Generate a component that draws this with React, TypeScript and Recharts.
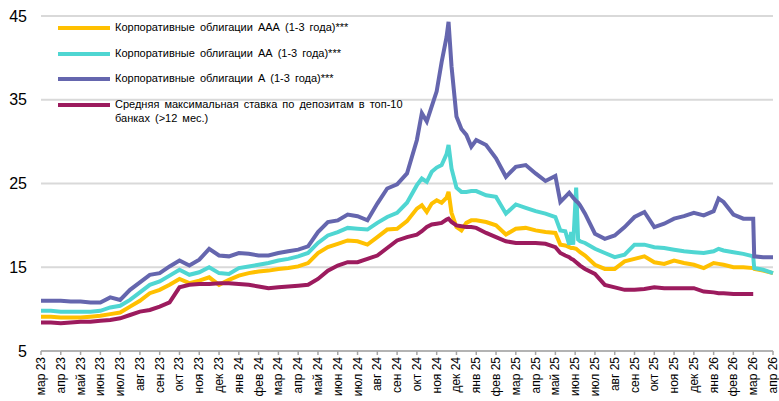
import { LineChart, Line, XAxis, YAxis, CartesianGrid } from "recharts"

// months since Mar 2023 (irregular steps, denser around the sharp moves)
const t = [
  0, 0.5, 1, 1.5, 2, 2.5, 3, 3.5, 4, 4.5, 5, 5.5, 6, 6.5, 7, 7.5, 8, 8.5, 9, 9.5,
  10, 10.5, 11, 11.5, 12, 12.5, 13, 13.5, 14, 14.5, 15, 15.5, 16, 16.5, 17, 17.5, 18, 18.5, 19,
  19.25, 19.5, 19.75, 20, 20.25, 20.5, 20.6, 20.75, 21, 21.25, 21.5, 21.75, 22,
  22.5, 23, 23.5, 24, 24.5, 25, 25.5, 26,
  26.25, 26.5, 26.7, 26.8, 26.9, 27.05, 27.15, 27.25, 27.5,
  28, 28.5, 29, 29.5, 30, 30.5, 31, 31.5, 32, 32.5, 33, 33.5, 34,
  34.25, 34.5, 35, 35.5, 36, 36.05, 36.5, 37,
]

const aaa = [
  9.1, 9.1, 9.0, 9.0, 9.0, 9.1, 9.2, 9.4, 9.6, 10.3, 11.0, 11.9, 12.3, 12.9, 13.6, 13.1, 13.4, 13.8, 12.9, 13.5,
  14.0, 14.3, 14.5, 14.6, 14.8, 14.9, 15.1, 15.5, 16.7, 17.4, 17.8, 18.2, 18.1, 17.7, 18.6, 19.5, 19.6, 20.5, 22.0,
  22.4, 21.6, 22.6, 23.0, 22.7, 23.3, 24.0, 21.5, 19.8, 19.4, 20.3, 20.6, 20.6,
  20.4, 20.0, 18.9, 19.6, 19.7, 19.4, 19.2, 19.1,
  17.7, 17.6, 17.4, 17.3, 17.3, 17.2, 17.0, 16.8, 16.4,
  15.3, 14.8, 14.8, 15.7, 16.0, 16.3, 15.6, 15.4, 15.8, 15.5, 15.3, 14.9, 15.5,
  15.4, 15.3, 15.0, 15.0, 14.9, 14.8, 14.6, 14.3,
]

const aa = [
  9.8, 9.8, 9.7, 9.7, 9.7, 9.7, 9.8, 10.2, 10.4, 11.1, 12.0, 12.9, 13.3, 14.0, 14.7, 14.1, 14.4, 15.0, 14.3, 14.2,
  14.9, 15.1, 15.3, 15.5, 15.8, 16.0, 16.3, 16.7, 17.9, 18.8, 19.2, 19.7, 19.6, 19.5, 20.3, 21.0, 21.5, 22.7, 24.8,
  25.6, 25.2, 26.4, 26.9, 27.2, 28.5, 29.6, 26.8, 24.5, 24.0, 24.0, 24.1, 24.1,
  23.6, 23.4, 21.4, 22.5, 22.1, 21.7, 21.4, 21.0,
  19.4, 19.3, 17.7, 19.2, 17.7, 24.5, 18.3, 18.1, 17.9,
  17.2, 16.7, 16.2, 16.5, 17.7, 17.7, 17.4, 17.3, 17.1, 16.9, 16.8, 16.7, 16.9,
  17.2, 17.0, 16.8, 16.6, 16.3, 14.9, 14.7, 14.3,
]

const a = [
  11.0, 11.0, 11.0, 10.9, 10.9, 10.8, 10.8, 11.4, 11.1, 12.3, 13.2, 14.1, 14.3, 15.1, 15.8, 15.2, 15.9, 17.2, 16.4, 16.3,
  16.7, 16.6, 16.4, 16.4, 16.7, 16.9, 17.1, 17.5, 19.2, 20.4, 20.6, 21.3, 21.1, 20.6, 22.6, 24.4, 24.9, 26.2, 30.2,
  33.4, 32.4, 34.2, 36.0, 39.5, 42.5, 44.3, 39.0, 33.0, 31.5, 30.8, 29.4, 30.2,
  29.6, 28.0, 25.8, 27.0, 27.2, 26.2, 25.3, 25.9,
  22.8, 23.4, 23.9, 23.6, 23.3, 22.9, 22.7, 22.4, 21.4,
  19.0, 18.4, 18.8, 19.8, 21.0, 21.6, 19.8, 20.2, 20.8, 21.1, 21.5, 21.2, 21.7,
  23.2, 22.8, 21.3, 20.8, 20.8, 16.3, 16.2, 16.2,
]

const deposit = [
  8.4, 8.4, 8.3, 8.4, 8.5, 8.5, 8.6, 8.7, 8.9, 9.3, 9.7, 9.9, 10.3, 10.8, 12.6, 12.9, 13.0, 13.0, 13.1, 13.1,
  13.0, 12.9, 12.7, 12.5, 12.6, 12.7, 12.8, 12.9, 13.6, 14.6, 15.2, 15.6, 15.6, 16.0, 16.4, 17.3, 18.2, 18.6, 18.9,
  19.3, 19.8, 20.1, 20.2, 20.3, 20.7, 20.8, 20.4, 20.0, 19.9, 19.8, 19.8, 19.7,
  19.1, 18.6, 18.1, 17.9, 17.9, 17.9, 17.8, 17.4,
  16.7, 16.4, 16.2, 16.0, 15.9, 15.6, 15.4, 15.2, 14.8,
  14.2, 12.9, 12.6, 12.3, 12.3, 12.4, 12.6, 12.5, 12.5, 12.5, 12.5, 12.1, 12.0,
  11.9, 11.9, 11.8, 11.8, 11.8, null, null, null,
]

const months = [
  "мар 23", "апр 23", "май 23", "июн 23", "июл 23", "авг 23", "сен 23", "окт 23", "ноя 23", "дек 23",
  "янв 24", "фев 24", "мар 24", "апр 24", "май 24", "июн 24", "июл 24", "авг 24", "сен 24", "окт 24",
  "ноя 24", "дек 24", "янв 25", "фев 25", "мар 25", "апр 25", "май 25", "июн 25", "июл 25", "авг 25",
  "сен 25", "окт 25", "ноя 25", "дек 25", "янв 26", "фев 26", "мар 26", "апр 26",
]

const yTicks = [5, 15, 25, 35, 45]

const series = [
  { key: "aaa", name: "Корпоративные облигации ААА (1-3 года)***", color: "#FFC000" },
  { key: "aa", name: "Корпоративные облигации АА (1-3 года)***", color: "#4FD6D2" },
  { key: "a", name: "Корпоративные облигации А (1-3 года)***", color: "#6566AE" },
  { key: "dep", name: "Средняя максимальная ставка по депозитам в топ-10\nбанках (>12 мес.)", color: "#9C1B5E" },
]

const data = t.map((m, i) => ({ t: m, aaa: aaa[i], aa: aa[i], a: a[i], dep: deposit[i] }))

const font = "'Liberation Sans', Arial, sans-serif"

function MonthTick({ x, y, payload }: any) {
  return (
    <text
      x={x}
      y={y}
      transform={`rotate(-90, ${x}, ${y})`}
      textAnchor="end"
      dominantBaseline="central"
      fontSize={12}
      fontFamily={font}
      fill="#000"
    >
      {months[payload.value]}
    </text>
  )
}

export default function App() {
  return (
    <div style={{ position: "absolute", left: 0, top: 0, width: 779, height: 401, background: "#fff" }}>
      <LineChart width={779} height={401} data={data} margin={{ top: 16, right: 6, left: 0, bottom: 0 }}>
        <CartesianGrid vertical={false} stroke="#d9d9d9" strokeWidth={2} />
        <XAxis
          dataKey="t"
          type="number"
          domain={[0, 37]}
          ticks={months.map((_, i) => i)}
          interval={0}
          height={50}
          tick={<MonthTick />}
          tickSize={4}
          tickMargin={2}
          stroke="#a6a6a6"
          strokeWidth={1.5}
        />
        <YAxis
          domain={[5, 45]}
          ticks={yTicks}
          width={41}
          axisLine={false}
          tickLine={false}
          tickMargin={8}
          tick={{ fontSize: 16, fill: "#000", fontFamily: font }}
        />
        {series.map((s) => (
          <Line
            key={s.key}
            dataKey={s.key}
            stroke={s.color}
            strokeWidth={4}
            dot={false}
            type="linear"
            isAnimationActive={false}
          />
        ))}
      </LineChart>
      <div style={{ position: "absolute", left: 58, top: 20, fontFamily: font, fontSize: 11, color: "#000" }}>
        {series.map((s) => (
          <div key={s.key} style={{ display: "flex", alignItems: "flex-start", height: 25.6 }}>
            <div style={{ width: 52, height: 4, background: s.color, marginTop: 6, marginRight: 5, flexShrink: 0 }} />
            <div style={{ whiteSpace: "pre", lineHeight: "14px", wordSpacing: 2 }}>{s.name}</div>
          </div>
        ))}
      </div>
    </div>
  )
}
